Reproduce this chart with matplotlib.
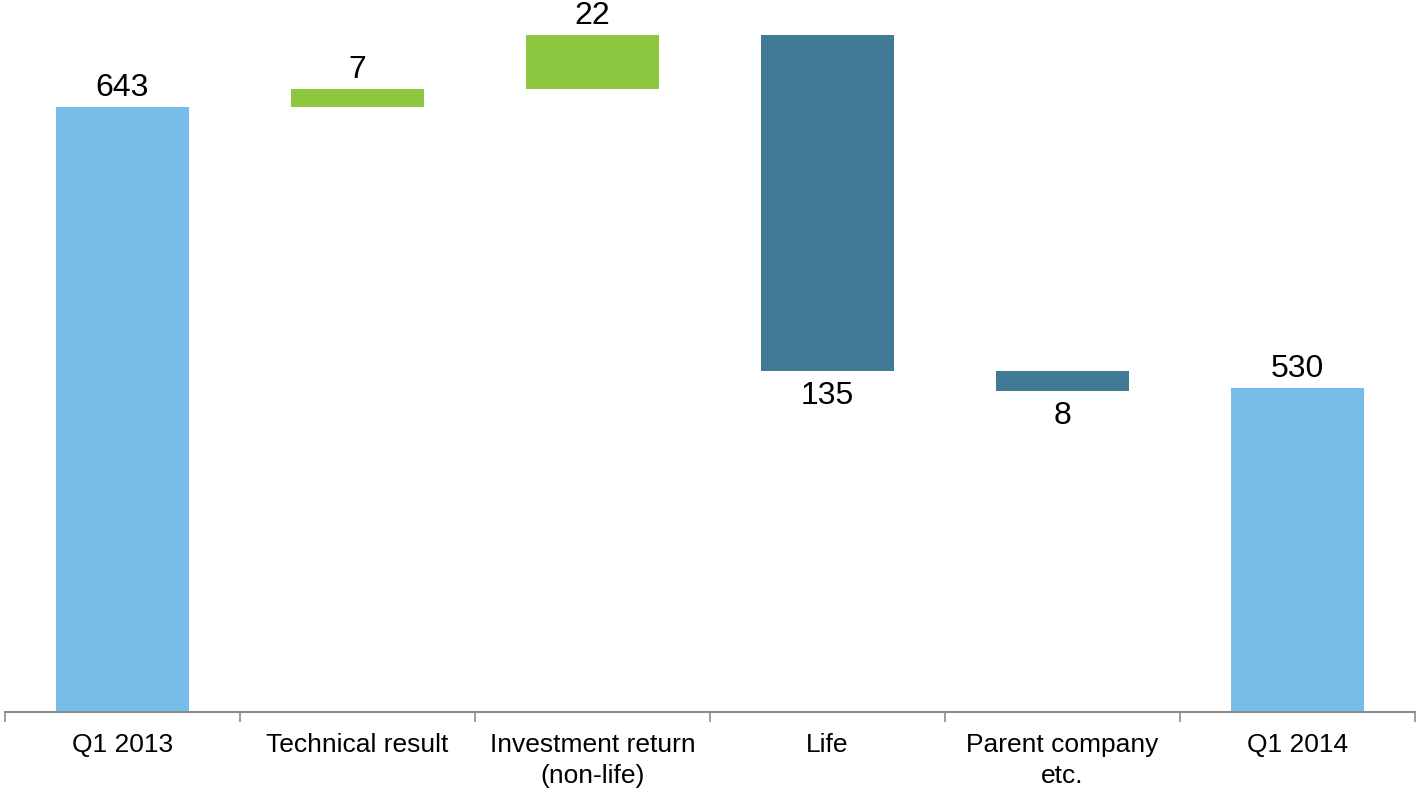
import numpy as np
import matplotlib.pyplot as plt

# waterfall data
categories = ["Q1 2013", "Technical result", "Investment return\n(non-life)",
              "Life", "Parent company\netc.", "Q1 2014"]
changes = [643, 7, 22, -135, -8, 530]
kinds = ["total", "up", "up", "down", "down", "total"]
labels = ["643", "7", "22", "135", "8", "530"]

colors = {"total": "#76BEE9", "up": "#8DC63F", "down": "#407A96"}
base_value = 400

plt.rcParams['font.family'] = ['Liberation Sans', 'DejaVu Sans']

fig = plt.figure(figsize=(14.16, 7.9), dpi=100)
ax = fig.add_axes([5 / 1416, 1 - 712 / 790, 1410 / 1416, 712 / 790])

running = 0
x = np.arange(len(categories))
for i, (val, kind, lab) in enumerate(zip(changes, kinds, labels)):
    if kind == "total":
        bottom, top = base_value, val
        running = val
    else:
        start = running
        running = running + val
        bottom, top = min(start, running), max(start, running)
    ax.bar(x[i], top - bottom, bottom=bottom, width=0.565,
           color=colors[kind], zorder=2)
    if kind == "down":
        ax.annotate(lab, (x[i], bottom), xytext=(0, -7), textcoords="offset points",
                    ha="center", va="top", fontsize=23)
    else:
        ax.annotate(lab, (x[i], top), xytext=(0, 8), textcoords="offset points",
                    ha="center", va="baseline", fontsize=23)

ax.set_xlim(-0.5, len(categories) - 0.5)
ax.set_ylim(base_value, base_value + 712 / 2.49)

ax.set_xticks(x)
ax.set_xticklabels(categories, fontsize=19, linespacing=1.4)
ax.set_xticks(np.arange(len(categories) + 1) - 0.5, minor=True)
ax.tick_params(axis="x", which="major", length=0, pad=15)
ax.tick_params(axis="x", which="minor", length=7, width=1.2, color="#8C8C8C")
ax.set_yticks([])

for side in ["top", "right", "left"]:
    ax.spines[side].set_visible(False)
ax.spines["bottom"].set_color("#8C8C8C")
ax.spines["bottom"].set_linewidth(1.5)

fig.savefig("out.png", dpi=100)
